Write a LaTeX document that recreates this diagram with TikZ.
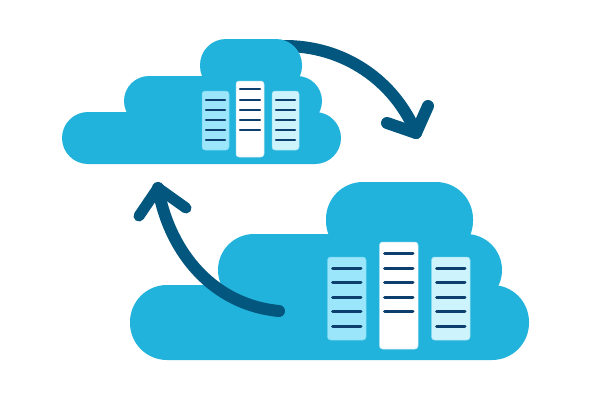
\documentclass[tikz,border=0pt]{standalone}
\definecolor{cloudc}{HTML}{22B3DC}
\definecolor{arrowc}{HTML}{03577E}
\definecolor{barc}{HTML}{0D3F6E}
\definecolor{srvl}{HTML}{9BE6FB}
\definecolor{srvr}{HTML}{CDF3FC}
\tikzset{
  cloudpart/.style={fill=cloudc,draw=none},
  srvbox/.style={draw=#1!70!cloudc,line width=0.5pt,rounded corners=3pt,fill=#1},
  barline/.style={draw=barc,line width=#1,line cap=round},
  arrowline/.style={draw=arrowc,line width=#1,line cap=round,line join=round},
}
\newcommand{\srv}[6]{%
  \draw[srvbox=#5] (#1,#3) rectangle (#2,#4);
  \foreach \yy in {#6} {\draw[barline=\barw] (#1+5,\yy) -- (#2-5,\yy);}
}
\newcommand{\srvs}[6]{%
  \draw[srvbox=#5] (#1,#3) rectangle (#2,#4);
  \foreach \yy in {#6} {\draw[barline=\barw] (#1+4,\yy) -- (#2-4,\yy);}
}
\begin{document}
\begin{tikzpicture}[x=1pt,y=-1pt]
\useasboundingbox (0,0) rectangle (600,400);
\fill[white] (0,0) rectangle (600,400);
% arrow 1, behind the small cloud
\coordinate (a1s) at (282,46);
\coordinate (a1t) at (416,133);
\coordinate (a1l) at (387,123);
\coordinate (a1r) at (428,106);
\draw[arrowline=12pt] (a1s) .. controls (345,45) and (395,82) .. (a1t);
\draw[arrowline=12pt] (a1l) -- (a1t) -- (a1r);
% small cloud
\fill[cloudpart,rounded corners=26pt] (62,112) rectangle (341,164);
\fill[cloudpart,rounded corners=25pt] (124,76) rectangle (322,126);
\fill[cloudpart,rounded corners=26pt] (200,39) rectangle (302,92);
\def\barw{2.2pt}
\srvs{202}{229}{91}{150}{srvl}{99.7,110,120,130,140.3}
\srvs{236}{264}{81}{157}{white}{89.3,99.7,110,120,130}
\srvs{272}{299}{91}{150}{srvr}{99.7,110,120,130,140.3}
% big cloud
\fill[cloudpart,rounded corners=37pt] (130,285) rectangle (529,360);
\fill[cloudpart,rounded corners=36pt] (218,234) rectangle (502,306);
\fill[cloudpart,rounded corners=37pt] (326,182) rectangle (473,258);
\def\barw{3pt}
\srv{327.5}{366}{257}{340}{srvl}{268,282,297,311,326}
\srv{379.5}{418}{242}{349}{white}{253,268,282,297,311}
\srv{431.5}{470}{257}{340}{srvr}{268,282,297,311,326}
% arrow 2
\coordinate (a2s) at (279,311);
\coordinate (a2t) at (158,188);
\coordinate (a2l) at (139,216);
\coordinate (a2r) at (186,208);
\draw[arrowline=12pt] (a2s) .. controls (215,305) and (170,255) .. (a2t);
\draw[arrowline=11pt] (a2l) -- (a2t) -- (a2r);
\end{tikzpicture}
\end{document}
